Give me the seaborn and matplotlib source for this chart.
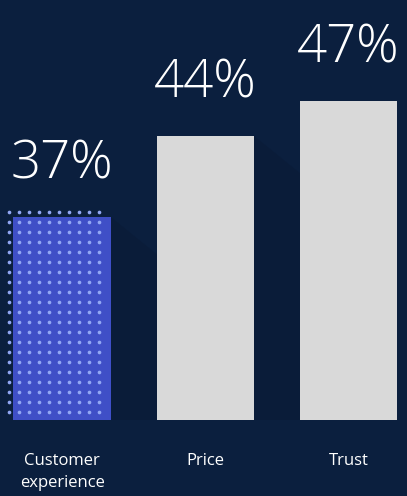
import numpy as np
import seaborn as sns
import matplotlib.pyplot as plt

categories = ["Customer\nexperience", "Price", "Trust"]
values = [37, 44, 47]
value_labels = ["37%", "44%", "47%"]

bg = "#0b1f3e"
bar_colors = ["#3f4fc7", "#d9d9d9", "#d9d9d9"]

sns.set_style("white")
plt.rcParams["font.family"] = ["Open Sans", "DejaVu Sans"]

fig = plt.figure(figsize=(4.07, 4.96), dpi=100, facecolor=bg)
ax = fig.add_axes([0, 76 / 496, 1, 420 / 496])
ax.set_facecolor(bg)

sns.barplot(x=categories, y=values, hue=categories, palette=bar_colors,
            width=0.68, legend=False, ax=ax, saturation=1, linewidth=0)

ax.set_xlim(-0.434, 2.41)
ax.set_ylim(19.5, 19.5 + 420 / 11.6)

# faint long shadows behind the bars
for p in ax.patches[:2]:
    xr = p.get_x() + p.get_width()
    top = p.get_height()
    ax.fill([xr, xr + 0.5, xr + 0.5, xr], [top, top - 5, 19.5, 19.5],
            color="#0a1c39", zorder=0.5, linewidth=0)

# dotted pattern over the first bar, offset up/left
p = ax.patches[0]
x0, w = p.get_x(), p.get_width()
dx = 10 / 143
dy = 10 / 11.6
gx = np.arange(x0 - 0.03, x0 + w - 0.05, dx)
gy = np.arange(19.5 + 0.7, values[0] + 0.7, dy)
GX, GY = np.meshgrid(gx, gy)
ax.scatter(GX.ravel(), GY.ravel(), s=7, color="#93a8f5", marker="o",
           linewidths=0, zorder=5, clip_on=False)

for i, (v, lab) in enumerate(zip(values, value_labels)):
    ax.text(i, v + 2.2, lab, ha="center", va="bottom", color="white",
            fontsize=38, fontweight="light")

ax.tick_params(axis="x", length=0, pad=24, colors="white", labelsize=12)
for t in ax.get_xticklabels():
    t.set_linespacing(1.5)
ax.set_yticks([])
ax.set_xlabel("")
ax.set_ylabel("")
sns.despine(left=True, bottom=True)

fig.savefig("out.png", dpi=100, facecolor=bg)
